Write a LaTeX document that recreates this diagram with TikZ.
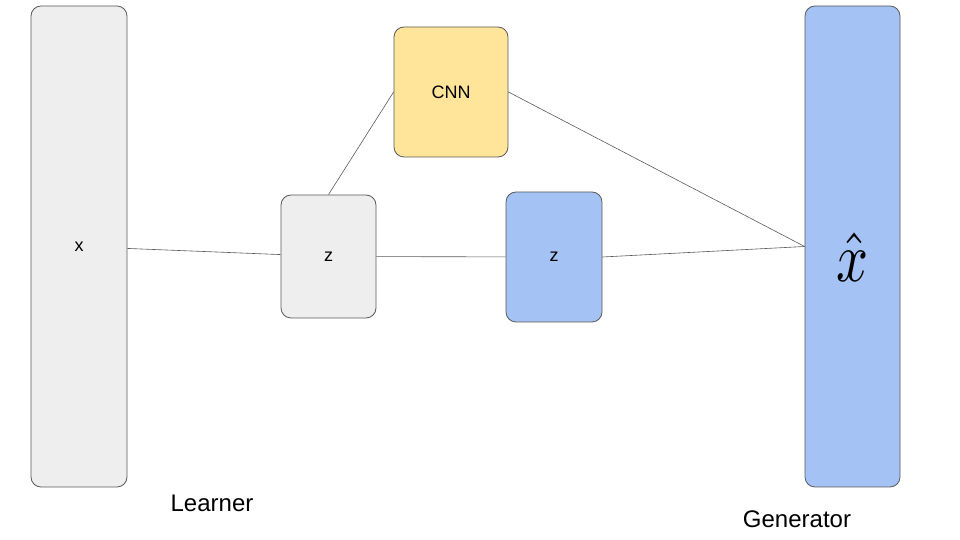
\documentclass[tikz,border=0pt]{standalone}
\usepackage{fontspec}
\setmainfont{Liberation Sans}
\usepackage{amsmath}
\usepackage{graphicx}
\usepackage{tikz}
\definecolor{boxgray}{HTML}{EEEEEE}
\definecolor{boxyellow}{HTML}{FFE599}
\definecolor{boxblue}{HTML}{A4C2F4}
\definecolor{edgegray}{HTML}{595959}
\tikzset{
    block/.style={draw=edgegray, line width=0.8pt, rounded corners=10pt, inner sep=0pt},
    link/.style={draw=edgegray, line width=0.6pt}
}

\begin{document}
\begin{tikzpicture}[x=1pt, y=1pt]
        \useasboundingbox (0, 0) rectangle (960, 540);
        \path (79, 293.5) node[block, fill=boxgray, minimum width=96pt, minimum height=481pt] (x) {\fontsize{18}{20}\selectfont x}
              (328.5, 283.5) node[block, fill=boxgray, minimum width=95pt, minimum height=123pt] (zl) {\fontsize{18}{20}\selectfont z}
              (451, 448) node[block, fill=boxyellow, minimum width=114pt, minimum height=130pt] (cnn) {\fontsize{18}{20}\selectfont CNN}
              (554, 283) node[block, fill=boxblue, minimum width=96pt, minimum height=130pt] (zr) {\fontsize{18}{20}\selectfont z}
              (852.5, 293.5) node[block, fill=boxblue, minimum width=95pt, minimum height=481pt] (xhat) {\raisebox{-35pt}[0pt][0pt]{\scalebox{5.6}[7]{$\hat{x}$}}};
        \path (212, 37) node(learner) {\fontsize{24}{26}\selectfont Learner}
              (797, 21) node(generator) {\fontsize{24}{26}\selectfont Generator};
        \draw[link] (x) -- (zl);
        \draw[link] (zl.north) -- (cnn.west);
        \draw[link] (zl) -- (zr);
        \draw[link] (cnn.east) -- (xhat.west);
        \draw[link] (zr.east) -- (xhat.west);
    \end{tikzpicture}
\end{document}
